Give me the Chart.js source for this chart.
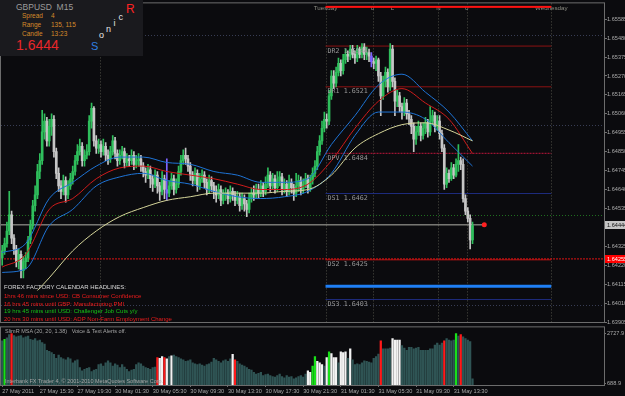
<!DOCTYPE html>
<html>
<head>
<meta charset="utf-8">
<title>GBPUSD M15</title>
<script src="https://cdn.jsdelivr.net/npm/chart.js@4.4.1/dist/chart.umd.min.js"></script>
<style>
  html, body { margin: 0; padding: 0; background: #0b0b0e; }
  #wrap { position: relative; width: 625px; height: 396px; overflow: hidden; background: #0b0b0e; font-family: "Liberation Sans", Arial, sans-serif; }
  #priceCanvas { position: absolute; left: 0; top: 0; }
  #volCanvas { position: absolute; left: 0; top: 323px; }
  #info { position: absolute; left: 0; top: 0; width: 143px; height: 56px; background: #1a1a1e; }
  .t { position: absolute; white-space: nowrap; line-height: 1; }
</style>
</head>
<body>
<div id="wrap">
  <canvas id="priceCanvas" width="625" height="330"></canvas>
  <canvas id="volCanvas" width="625" height="73"></canvas>

  <div id="info"></div>
  <div class="t" style="left:16px;top:3px;font-size:8.5px;color:#9c9c9c">GBPUSD&nbsp;&nbsp;M15</div>
  <div class="t" style="left:22px;top:13px;font-size:6.5px;color:#d68a2a">Spread</div>
  <div class="t" style="left:51px;top:13px;font-size:6.5px;color:#d68a2a">4</div>
  <div class="t" style="left:22px;top:22px;font-size:6.5px;color:#d68a2a">Range</div>
  <div class="t" style="left:51px;top:22px;font-size:6.5px;color:#d68a2a">135, 115</div>
  <div class="t" style="left:22px;top:30.5px;font-size:6.5px;color:#d68a2a">Candle</div>
  <div class="t" style="left:51px;top:30.5px;font-size:6.5px;color:#d68a2a">13:23</div>
  <div class="t" style="left:16px;top:38px;font-size:14px;color:#e8262a">1.6444</div>
  <div class="t" style="left:91px;top:40.5px;font-size:11px;color:#2f80e2">S</div>
  <div class="t" style="left:99px;top:30.5px;font-size:9px;color:#e6e6e6">o</div>
  <div class="t" style="left:106px;top:24.5px;font-size:9px;color:#e6e6e6">n</div>
  <div class="t" style="left:113.5px;top:18.5px;font-size:9px;color:#e6e6e6">i</div>
  <div class="t" style="left:118.5px;top:12.5px;font-size:9px;color:#e6e6e6">c</div>
  <div class="t" style="left:126px;top:2.5px;font-size:12px;color:#ff2222">R</div>

  <div class="t" style="left:4px;top:284px;font-size:6px;color:#dcdcdc">FOREX FACTORY CALENDAR HEADLINES:</div>
  <div class="t" style="left:4px;top:292.5px;font-size:6px;color:#ee1c1c">1hrs 46 mins since USD: CB Consumer Confidence</div>
  <div class="t" style="left:4px;top:300.5px;font-size:6px;color:#ee1c1c">16 hrs 45 mins until GBP: Manufacturing PMI</div>
  <div class="t" style="left:4px;top:308px;font-size:6px;color:#16c416">19 hrs 45 mins until USD: Challenger Job Cuts y/y</div>
  <div class="t" style="left:4px;top:315.5px;font-size:6px;color:#ee1c1c">20 hrs 30 mins until USD: ADP Non-Farm Employment Change</div>

  <div class="t" style="left:5px;top:328.5px;font-size:5.5px;color:#a4a4a4">SlimR MSA (20, 20, 1.38) &nbsp;&nbsp;Voice &amp; Text Alerts off.</div>
  <div class="t" style="left:5px;top:378.5px;font-size:5.5px;color:#a4a4a4">Interbank FX Trader 4, © 2001-2010 MetaQuotes Software Corp.</div>
</div>

<script>
// GBPUSD M15 candles, bar 0 = 27 May 11:30, bar 200 = 31 May 15:30
const opens = [
  1.6426,1.6430,1.6434,1.6441,1.6450,1.6437,1.6431,1.6424,1.6428,1.6419,
  1.6424,1.6426,1.6436,1.6444,1.6455,1.6461,1.6474,1.6480,1.6496,1.6502,
  1.6491,1.6499,1.6503,1.6485,1.6473,1.6466,1.6463,1.6469,1.6461,1.6466,
  1.6470,1.6474,1.6480,1.6485,1.6488,1.6480,1.6483,1.6485,1.6502,1.6509,
  1.6491,1.6487,1.6489,1.6485,1.6488,1.6483,1.6481,1.6485,1.6491,1.6484,
  1.6480,1.6483,1.6485,1.6479,1.6481,1.6480,1.6483,1.6478,1.6480,1.6481,
  1.6477,1.6474,1.6472,1.6475,1.6470,1.6467,1.6472,1.6466,1.6463,1.6470,
  1.6464,1.6462,1.6466,1.6470,1.6464,1.6467,1.6474,1.6480,1.6483,1.6481,
  1.6477,1.6472,1.6469,1.6473,1.6466,1.6470,1.6472,1.6468,1.6464,1.6469,
  1.6466,1.6463,1.6461,1.6464,1.6458,1.6461,1.6462,1.6459,1.6463,1.6461,
  1.6458,1.6460,1.6455,1.6459,1.6456,1.6453,1.6459,1.6462,1.6461,1.6464,
  1.6462,1.6466,1.6463,1.6467,1.6472,1.6466,1.6470,1.6465,1.6469,1.6471,
  1.6464,1.6467,1.6463,1.6468,1.6465,1.6462,1.6466,1.6469,1.6464,1.6467,
  1.6470,1.6465,1.6469,1.6473,1.6477,1.6485,1.6491,1.6498,1.6503,1.6502,
  1.6516,1.6527,1.6523,1.6529,1.6534,1.6530,1.6536,1.6539,1.6538,1.6542,
  1.6539,1.6537,1.6542,1.6539,1.6543,1.6539,1.6540,1.6538,1.6535,1.6534,
  1.6536,1.6527,1.6516,1.6524,1.6529,1.6521,1.6542,1.6524,1.6513,1.6516,
  1.6510,1.6507,1.6512,1.6506,1.6503,1.6499,1.6492,1.6496,1.6499,1.6494,
  1.6498,1.6501,1.6496,1.6502,1.6505,1.6499,1.6502,1.6495,1.6487,1.6467,
  1.6473,1.6470,1.6476,1.6472,1.6478,1.6480,1.6478,1.6459,1.6452,1.6448,
  1.6436
];
const highs = [
  1.6433,1.6437,1.6446,1.6463,1.6452,1.6439,1.6433,1.6431,1.6430,1.6427,
  1.6429,1.6438,1.6447,1.6458,1.6466,1.6478,1.6484,1.6508,1.6506,1.6504,
  1.6503,1.6506,1.6505,1.6487,1.6476,1.6469,1.6472,1.6471,1.6469,1.6473,
  1.6477,1.6483,1.6489,1.6492,1.6490,1.6486,1.6489,1.6505,1.6512,1.6510,
  1.6494,1.6492,1.6491,1.6492,1.6490,1.6486,1.6488,1.6494,1.6493,1.6486,
  1.6486,1.6488,1.6487,1.6484,1.6483,1.6486,1.6485,1.6483,1.6484,1.6483,
  1.6479,1.6476,1.6478,1.6477,1.6472,1.6475,1.6474,1.6468,1.6474,1.6472,
  1.6481,1.6469,1.6473,1.6472,1.6470,1.6477,1.6483,1.6486,1.6487,1.6483,
  1.6479,1.6474,1.6476,1.6475,1.6473,1.6475,1.6474,1.6470,1.6472,1.6471,
  1.6468,1.6466,1.6467,1.6466,1.6464,1.6465,1.6464,1.6466,1.6465,1.6463,
  1.6463,1.6462,1.6462,1.6461,1.6458,1.6462,1.6465,1.6466,1.6467,1.6467,
  1.6469,1.6468,1.6471,1.6476,1.6474,1.6473,1.6472,1.6474,1.6474,1.6473,
  1.6470,1.6469,1.6472,1.6470,1.6467,1.6473,1.6472,1.6471,1.6470,1.6473,
  1.6472,1.6472,1.6476,1.6480,1.6488,1.6494,1.6502,1.6507,1.6506,1.6519,
  1.6530,1.6530,1.6532,1.6537,1.6536,1.6539,1.6542,1.6541,1.6544,1.6544,
  1.6541,1.6544,1.6543,1.6545,1.6545,1.6543,1.6542,1.6540,1.6537,1.6538,
  1.6537,1.6529,1.6527,1.6532,1.6531,1.6545,1.6544,1.6526,1.6519,1.6518,
  1.6512,1.6515,1.6514,1.6508,1.6505,1.6501,1.6499,1.6502,1.6501,1.6501,
  1.6504,1.6503,1.6510,1.6508,1.6507,1.6505,1.6505,1.6497,1.6489,1.6476,
  1.6475,1.6479,1.6478,1.6481,1.6489,1.6482,1.6481,1.6461,1.6454,1.6450,
  1.6446
];
const lows = [
  1.6422,1.6428,1.6432,1.6439,1.6434,1.6428,1.6421,1.6420,1.6415,1.6415,
  1.6420,1.6424,1.6434,1.6442,1.6452,1.6459,1.6470,1.6478,1.6492,1.6488,
  1.6488,1.6494,1.6482,1.6470,1.6463,1.6459,1.6461,1.6457,1.6459,1.6464,
  1.6467,1.6472,1.6478,1.6483,1.6477,1.6477,1.6481,1.6483,1.6498,1.6488,
  1.6484,1.6484,1.6482,1.6483,1.6480,1.6478,1.6479,1.6483,1.6481,1.6477,
  1.6478,1.6481,1.6476,1.6477,1.6477,1.6478,1.6475,1.6476,1.6477,1.6474,
  1.6471,1.6468,1.6470,1.6465,1.6463,1.6465,1.6462,1.6458,1.6461,1.6459,
  1.6458,1.6460,1.6464,1.6461,1.6462,1.6465,1.6472,1.6478,1.6478,1.6474,
  1.6469,1.6466,1.6467,1.6463,1.6464,1.6468,1.6465,1.6461,1.6462,1.6463,
  1.6459,1.6457,1.6459,1.6455,1.6456,1.6458,1.6456,1.6457,1.6458,1.6455,
  1.6456,1.6452,1.6453,1.6452,1.6449,1.6451,1.6457,1.6458,1.6459,1.6459,
  1.6460,1.6460,1.6461,1.6465,1.6463,1.6464,1.6462,1.6463,1.6466,1.6461,
  1.6462,1.6460,1.6461,1.6462,1.6458,1.6460,1.6463,1.6461,1.6462,1.6465,
  1.6462,1.6463,1.6467,1.6471,1.6475,1.6483,1.6489,1.6496,1.6498,1.6500,
  1.6514,1.6520,1.6521,1.6527,1.6527,1.6528,1.6534,1.6535,1.6536,1.6537,
  1.6534,1.6535,1.6537,1.6537,1.6536,1.6536,1.6535,1.6532,1.6531,1.6530,
  1.6524,1.6505,1.6514,1.6521,1.6518,1.6519,1.6521,1.6505,1.6510,1.6507,
  1.6503,1.6505,1.6503,1.6500,1.6495,1.6485,1.6489,1.6494,1.6491,1.6492,
  1.6495,1.6493,1.6494,1.6500,1.6496,1.6497,1.6492,1.6485,1.6464,1.6465,
  1.6468,1.6469,1.6470,1.6471,1.6474,1.6475,1.6457,1.6450,1.6446,1.6431,
  1.6434
];
const closes = [
  1.6430,1.6434,1.6441,1.6450,1.6437,1.6431,1.6424,1.6428,1.6419,1.6424,
  1.6426,1.6436,1.6444,1.6455,1.6461,1.6474,1.6480,1.6496,1.6502,1.6491,
  1.6499,1.6503,1.6485,1.6473,1.6466,1.6463,1.6469,1.6461,1.6466,1.6470,
  1.6474,1.6480,1.6485,1.6488,1.6480,1.6483,1.6485,1.6502,1.6509,1.6491,
  1.6487,1.6489,1.6485,1.6488,1.6483,1.6481,1.6485,1.6491,1.6484,1.6480,
  1.6483,1.6485,1.6479,1.6481,1.6480,1.6483,1.6478,1.6480,1.6481,1.6477,
  1.6474,1.6472,1.6475,1.6470,1.6467,1.6472,1.6466,1.6463,1.6470,1.6464,
  1.6462,1.6466,1.6470,1.6464,1.6467,1.6474,1.6480,1.6483,1.6481,1.6477,
  1.6472,1.6469,1.6473,1.6466,1.6470,1.6472,1.6468,1.6464,1.6469,1.6466,
  1.6463,1.6461,1.6464,1.6458,1.6461,1.6462,1.6459,1.6463,1.6461,1.6458,
  1.6460,1.6455,1.6459,1.6456,1.6453,1.6459,1.6462,1.6461,1.6464,1.6462,
  1.6466,1.6463,1.6467,1.6472,1.6466,1.6470,1.6465,1.6469,1.6471,1.6464,
  1.6467,1.6463,1.6468,1.6465,1.6462,1.6466,1.6469,1.6464,1.6467,1.6470,
  1.6465,1.6469,1.6473,1.6477,1.6485,1.6491,1.6498,1.6503,1.6502,1.6516,
  1.6527,1.6523,1.6529,1.6534,1.6530,1.6536,1.6539,1.6538,1.6542,1.6539,
  1.6537,1.6542,1.6539,1.6543,1.6539,1.6540,1.6538,1.6535,1.6534,1.6536,
  1.6527,1.6516,1.6524,1.6529,1.6521,1.6542,1.6524,1.6513,1.6516,1.6510,
  1.6507,1.6512,1.6506,1.6503,1.6499,1.6492,1.6496,1.6499,1.6494,1.6498,
  1.6501,1.6496,1.6502,1.6505,1.6499,1.6502,1.6495,1.6487,1.6467,1.6473,
  1.6470,1.6476,1.6472,1.6478,1.6480,1.6478,1.6459,1.6452,1.6448,1.6436,
  1.6444
];
const markedBars = [70, 157];

// Sonic R dragon (EMA of high / close / low) and the slow EMA, read every 10 bars
const maIdx   = [0, 10, 20, 30, 40, 50, 60, 70, 80, 90, 100, 110, 120, 130, 140, 150, 160, 170, 180, 190, 200];
const maUpper = [1.6429,1.6434,1.6459,1.6468,1.6477,1.6482,1.6482,1.6479,1.6478,1.6474,1.6472,1.6468,1.6468,1.6470,1.6489,1.6505,1.6522,1.6528,1.6518,1.6507,1.6491];
const maMid   = [1.6421,1.6428,1.6453,1.6459,1.6470,1.6476,1.6477,1.6474,1.6472,1.6470,1.6467,1.6464,1.6464,1.6467,1.6480,1.6498,1.6513,1.6520,1.6512,1.6503,1.6484];
const maLower = [1.6418,1.6420,1.6444,1.6453,1.6466,1.6471,1.6473,1.6469,1.6467,1.6463,1.6460,1.6459,1.6460,1.6463,1.6473,1.6494,1.6507,1.6507,1.6503,1.6490,1.6477];
const slowIdx = [15, 20, 30, 40, 50, 60, 70, 80, 90, 100, 110, 120, 130, 140, 150, 160, 170, 180, 190, 200];
const maSlow  = [1.6408,1.6415,1.6430,1.6441,1.6449,1.6454,1.6458,1.6460,1.6462,1.6462,1.6462,1.6463,1.6464,1.6472,1.6487,1.6495,1.6500,1.6501,1.6497,1.6491];

// price axis and levels
const priceTicks = [1.65585,1.65480,1.65375,1.65270,1.65165,1.65060,1.64955,1.64850,1.64745,1.64640,
                    1.64535,1.64430,1.64325,1.64220,1.64115,1.64010,1.63905];
const gridLevels = [1.6550, 1.6500, 1.6450, 1.6400];
const pivotNames  = ['DR2', 'DR1', 'DPV', 'DS1', 'DS2', 'DS3'];
const pivotLevels = [1.65436, 1.65210, 1.64841, 1.64618, 1.64250, 1.64030];
const pivotFrom = 137.5, pivotTo = 233.5;
const blueLevel = 1.64103;
const lastPrice = 1.64444, alertPrice = 1.64255, arrowIdx = 205;

// session separators (bar positions) and their names at the top
const sessionIdx = [41.5, 137.5, 157.5, 185.5, 197.5, 233.5];
const sessionNames = ['Tuesday', '0', 'L', 'N', '0', 'Wednesday'];
const sessionNameIdx = [137.5, 157.5, 166, 185.5, 197.5, 233.5];

// SlimR MSA histogram
const volumes = [
  2407,2471,2535,2663,2702,2625,2574,2599,2625,2535,
  2574,2599,2471,2445,2497,2407,2445,2343,2279,2022,
  1984,1933,1856,1702,1830,1727,1676,1638,1727,1676,
  1510,1599,1638,1317,1189,1253,1292,1317,1163,1215,
  1253,1445,1471,1381,1510,1599,1510,1381,1471,1420,
  1317,1445,1343,1253,1163,1215,1253,1445,1510,1471,
  1381,1317,1292,1253,1317,1343,1727,1702,1766,1727,
  1676,1766,1804,1830,1766,1727,1676,1638,1574,1599,
  1638,1510,1471,1445,1471,1420,1381,1445,1471,1548,
  1702,1638,1574,1510,1599,1638,1574,1676,1856,1638,
  1574,1471,1420,1381,1317,1253,1215,1125,1061,1086,
  1125,997,1035,1061,997,958,933,997,1061,958,
  907,997,933,958,868,907,958,997,933,1061,
  1189,1125,1381,1766,1574,1510,1445,1381,1727,1958,
  1894,1727,1727,1510,1958,1933,1958,1702,2086,1638,
  1445,1471,1445,1510,1599,1574,1548,1510,1702,1766,
  1868,2407,2086,2086,2086,2112,2497,2445,2445,2445,
  2215,2112,2022,2150,2150,2086,2112,2150,2022,2022,
  2022,2022,2086,2086,2240,2317,2240,2317,2407,2497,
  2445,2407,2445,2702,2599,2663,2574,2497,2445,2381,
  868
];
const volRed = [4, 66, 69, 99, 161, 188, 195];
const volGreen = [1, 132, 133, 139, 193];
const volWhite = [67, 68, 70, 72, 98, 130, 131, 134, 135, 136, 138, 140, 141, 142, 144, 145, 146, 148, 166, 167, 168, 169];
const volTicks = [2727.9, 688.9];

const timeIdx = [0, 16, 32, 48, 64, 80, 96, 112, 128, 144, 160, 176, 192];
const timeLabels = ['27 May 2011', '27 May 15:30', '27 May 19:30', '30 May 01:30', '30 May 05:30', '30 May 09:30',
                    '30 May 13:30', '30 May 17:30', '30 May 21:30', '31 May 01:30', '31 May 05:30', '31 May 09:30', '31 May 13:30'];

// ---- drawing ----
const X_MIN = -0.51, X_MAX = 255.92;
const AXIS_FONT = { family: 'Liberation Sans', size: 5.6 };
const AXIS_TEXT = '#aaaaaa';
const FRAME = '#6c6c6c';

const candleColors = closes.map((c, i) =>
  markedBars.includes(i) ? '#7d63ff' : (c > opens[i] ? '#2fbf5c' : '#c6c6c6'));
const pivotColors = ['#8c1212', '#8c1212', '#c0163c', '#1e2c7e', '#c01414', '#1e2c7e'];

function lineAt(ctx, x1, y1, x2, y2) {
  ctx.beginPath(); ctx.moveTo(x1, y1); ctx.lineTo(x2, y2); ctx.stroke();
}

const frame = {
  id: 'frame',
  afterDraw(chart) {
    const { ctx, chartArea: a } = chart;
    ctx.save();
    ctx.strokeStyle = FRAME; ctx.lineWidth = 1;
    ctx.strokeRect(a.left - 0.5, a.top - 0.5, a.right - a.left + 1, a.bottom - a.top + 1);
    ctx.restore();
  }
};

const priceDecor = {
  id: 'priceDecor',
  beforeDatasetsDraw(chart) {
    const { ctx, chartArea: a, scales: { x, y } } = chart;
    ctx.save();
    ctx.lineWidth = 1;
    ctx.setLineDash([1, 2]);
    gridLevels.forEach(lv => {
      const py = Math.round(y.getPixelForValue(lv)) + 0.5;
      ctx.strokeStyle = lv === 1.6450 ? '#1f6e1f' : '#383d54';
      lineAt(ctx, a.left, py, a.right, py);
    });
    ctx.strokeStyle = '#4e4e44';
    sessionIdx.forEach(v => {
      const px = Math.round(x.getPixelForValue(v)) + 0.5;
      lineAt(ctx, px, a.top, px, a.bottom);
    });
    ctx.restore();
  },
  afterDatasetsDraw(chart) {
    const { ctx, chartArea: a, scales: { x, y } } = chart;
    ctx.save();
    // pivot captions
    ctx.font = '6.7px "DejaVu Sans Mono"';
    ctx.fillStyle = '#9a9a9a';
    ctx.textBaseline = 'top';
    pivotNames.forEach((n, k) => {
      ctx.fillText(n + ' ' + pivotLevels[k].toFixed(4), x.getPixelForValue(pivotFrom) + 2, y.getPixelForValue(pivotLevels[k]) + 1.5);
    });
    // session names + day bar
    ctx.font = '6.2px "Liberation Sans"';
    ctx.fillStyle = '#8e8e84';
    ctx.textAlign = 'center';
    sessionNames.forEach((n, k) => ctx.fillText(n, x.getPixelForValue(sessionNameIdx[k]), a.top + 2));
    const x0 = x.getPixelForValue(pivotFrom), x1 = x.getPixelForValue(pivotTo);
    ctx.fillStyle = '#ff1212';
    ctx.fillRect(x0, a.top + 2.5, x1 - x0, 2);
    ctx.restore();
  },
  afterDraw(chart) {
    const { ctx, chartArea: a, scales: { y } } = chart;
    ctx.save();
    ctx.font = '5.6px "Liberation Sans"';
    ctx.textBaseline = 'middle';
    [[lastPrice, '#c4c4c4', '#111111'], [alertPrice, '#ff0000', '#ffffff']].forEach(([p, bg, fg]) => {
      const py = y.getPixelForValue(p);
      ctx.fillStyle = bg;
      ctx.fillRect(a.right + 1, Math.round(py) - 4, 21, 8);
      ctx.fillStyle = fg;
      ctx.fillText(p.toFixed(5), a.right + 3, Math.round(py) + 0.5);
    });
    ctx.restore();
  }
};

function xScale(show) {
  return {
    type: 'linear', min: X_MIN, max: X_MAX, offset: false, display: show,
    grid: { display: show, drawOnChartArea: false, drawTicks: true, tickLength: 2, color: '#707070', offset: false },
    border: { display: false },
    ticks: {
      color: AXIS_TEXT, font: AXIS_FONT, padding: 1, align: 'start', autoSkip: false, maxRotation: 0,
      callback: v => timeLabels[timeIdx.indexOf(v)]
    },
    afterBuildTicks: s => { s.ticks = timeIdx.map(v => ({ value: v })); },
    afterFit: s => { s.height = show ? 11 : 0; }
  };
}

function line(idx, vals, color, order) {
  return {
    type: 'line', data: vals.map((v, k) => ({ x: idx[k], y: v })),
    borderColor: color, borderWidth: 1, pointRadius: 0, cubicInterpolationMode: 'monotone', order
  };
}

new Chart(document.getElementById('priceCanvas'), {
  type: 'bar',
  data: {
    datasets: [
      ...pivotLevels.map((lv, k) => ({
        type: 'line', data: [{ x: pivotFrom, y: lv }, { x: pivotTo, y: lv }],
        borderColor: pivotColors[k], borderWidth: 1, pointRadius: 0, order: 6,
        borderDash: k === 2 ? [2, 1] : []
      })),
      { type: 'line', data: [{ x: pivotFrom, y: blueLevel }, { x: pivotTo, y: blueLevel }],
        borderColor: '#1f7ff5', borderWidth: 3, pointRadius: 0, order: 6 },
      { type: 'line', data: [{ x: X_MIN, y: alertPrice }, { x: X_MAX, y: alertPrice }],
        borderColor: '#e01414', borderWidth: 1, borderDash: [2, 1], pointRadius: 0, order: 5 },
      { type: 'line', data: [{ x: X_MIN, y: lastPrice }, { x: arrowIdx, y: lastPrice }],
        borderColor: '#b0b0a8', borderWidth: 1, pointRadius: [0, 2.5], pointBorderWidth: 0,
        pointBackgroundColor: '#ff2020', order: 5 },
      { data: lows.map((l, i) => ({ x: i, y: [l, highs[i]] })),
        backgroundColor: candleColors, barThickness: 1, grouped: false, order: 3 },
      { data: opens.map((o, i) => ({ x: i, y: [o, closes[i]] })),
        backgroundColor: candleColors, barThickness: 2, minBarLength: 1, grouped: false, order: 2 },
      line(slowIdx, maSlow, '#d6d69a', 1),
      line(maIdx, maUpper, '#1f74d6', 1),
      line(maIdx, maLower, '#1f74d6', 1),
      line(maIdx, maMid, '#d01c1c', 1)
    ]
  },
  options: {
    responsive: false, animation: false, devicePixelRatio: 1,
    layout: { padding: { left: 1, top: 1, right: 0, bottom: 8 }, autoPadding: false },
    plugins: { legend: { display: false }, tooltip: { enabled: false } },
    events: [],
    scales: {
      x: xScale(false),
      y: {
        type: 'linear', position: 'right', min: 1.63905, max: 1.65673,
        grid: { drawOnChartArea: false, drawTicks: true, tickLength: 3, color: '#707070' },
        border: { display: false },
        ticks: { color: AXIS_TEXT, font: AXIS_FONT, padding: 0, autoSkip: false, callback: v => v.toFixed(5) },
        afterBuildTicks: s => { s.ticks = priceTicks.map(v => ({ value: v })); },
        afterFit: s => { s.width = 21; }
      }
    }
  },
  plugins: [priceDecor, frame]
});

const volColors = volumes.map((v, i) =>
  volRed.includes(i) ? '#ff1a1a' : volGreen.includes(i) ? '#18e018' : volWhite.includes(i) ? '#f2f2f2' : '#2f5454');

new Chart(document.getElementById('volCanvas'), {
  type: 'bar',
  data: {
    datasets: [{
      data: volumes.map((v, i) => ({ x: i, y: v })),
      backgroundColor: volColors, barThickness: 1.6, grouped: false
    }]
  },
  options: {
    responsive: false, animation: false, devicePixelRatio: 1,
    layout: { padding: { left: 1, top: 1, right: 0, bottom: 0 }, autoPadding: false },
    plugins: { legend: { display: false }, tooltip: { enabled: false } },
    events: [],
    scales: {
      x: xScale(true),
      y: {
        type: 'linear', position: 'right', min: 612, max: 2958.7,
        grid: { drawOnChartArea: false, drawTicks: true, tickLength: 2, color: '#707070' },
        border: { display: false },
        ticks: { color: AXIS_TEXT, font: AXIS_FONT, padding: 1, autoSkip: false, callback: v => v.toFixed(1) },
        afterBuildTicks: s => { s.ticks = volTicks.map(v => ({ value: v })); },
        afterFit: s => { s.width = 21; }
      }
    }
  },
  plugins: [frame]
});
</script>
</body>
</html>
